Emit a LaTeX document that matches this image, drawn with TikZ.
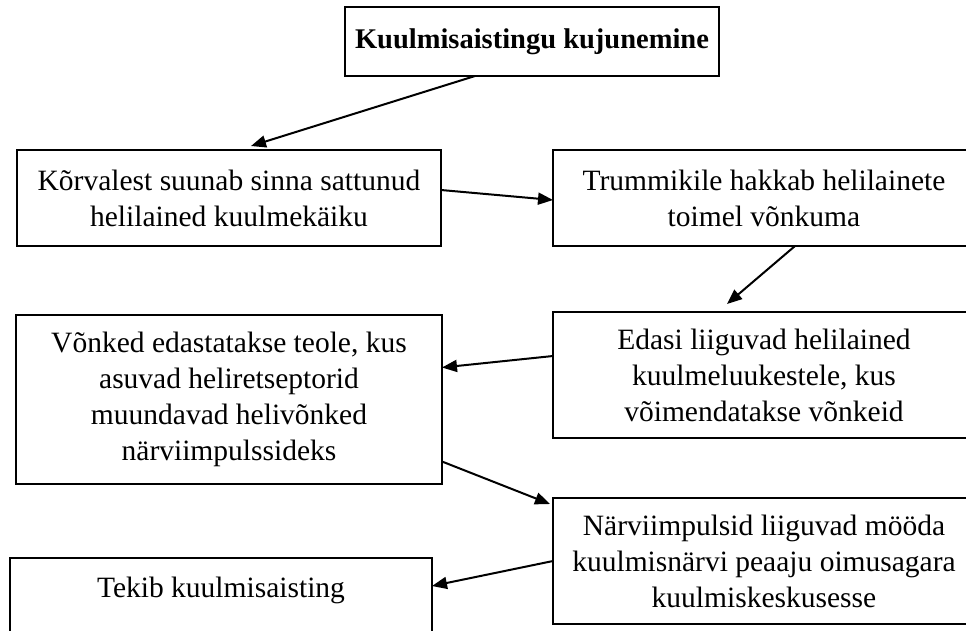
\documentclass[tikz,border=0pt]{standalone}
\usepackage{fontspec}
\setmainfont{Liberation Serif}
\usetikzlibrary{positioning, arrows.meta}
\tikzset{
    ->, % every connector is an arrow
    >={Triangle[length=15pt, width=12pt]}, % filled triangular heads
    x=1pt, y=-1pt, % one unit is one pixel, y runs downwards
    every edge/.style={draw, line width=2pt}, % connector thickness
    box/.style={draw, line width=2.8pt, outer sep=0pt, inner sep=0pt, align=center, font=\fontsize{29.5}{36}\selectfont}, % the step boxes
    heading/.style={box, font=\bfseries\fontsize{28.5}{34}\selectfont}, % the title box
}
\begin{document}
\begin{tikzpicture}
    \useasboundingbox (0,0) rectangle (966,630);
    \node[heading, minimum width=374pt, minimum height=69pt] (title) at (532,41.5) {Kuulmisaistingu kujunemine};
    \node[box, minimum width=424pt, minimum height=96pt] (ear) at (229,198) {Kõrvalest suunab sinna sattunud\\helilained kuulmekäiku};
    \node[box, minimum width=422pt, minimum height=96pt, right=112pt of ear] (drum) {Trummikile hakkab helilainete\\toimel võnkuma};
    \node[box, minimum width=422pt, minimum height=126pt, below=66pt of drum] (bones) {Edasi liiguvad helilained\\kuulmeluukestele, kus\\võimendatakse võnkeid};
    \node[box, minimum width=426pt, minimum height=169pt, below=69pt of ear] (cochlea) {Võnked edastatakse teole, kus\\asuvad heliretseptorid\\muundavad helivõnked\\närviimpulssideks};
    \node[box, minimum width=422pt, minimum height=126pt, below=60pt of bones] (nerve) {Närviimpulsid liiguvad mööda\\kuulmisnärvi peaaju oimusagara\\kuulmiskeskusesse};
    \node[box, minimum width=422pt, text height=30pt, text depth=60pt, inner ysep=9pt, below=74pt of cochlea, xshift=-8pt] (sense) {Tekib kuulmisaisting};
    \path
    ([xshift=-57pt]title.south) edge ([xshift=22pt, yshift=4pt]ear.north)
    ([yshift=8pt]ear.east) edge ([yshift=-2pt]drum.west)
    ([xshift=31pt]drum.south) edge ([xshift=-37pt, yshift=8pt]bones.north)
    ([yshift=19pt]bones.west) edge ([yshift=32pt]cochlea.east)
    ([yshift=-62pt]cochlea.east) edge ([xshift=-3pt, yshift=57pt]nerve.west)
    (nerve.west) edge ([yshift=26pt]sense.east);
\end{tikzpicture}
\end{document}
